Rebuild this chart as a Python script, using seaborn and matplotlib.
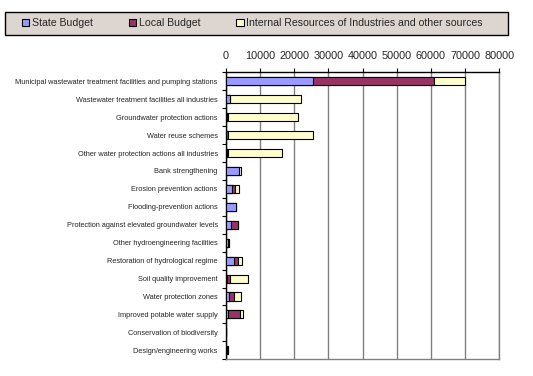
import matplotlib
matplotlib.use("Agg")
import matplotlib.pyplot as plt
from matplotlib.patches import Patch, Rectangle
import seaborn as sns
import pandas as pd
import numpy as np

categories = [
    "Municipal wastewater treatment facilities and pumping stations",
    "Wastewater treatment facilities all industries",
    "Groundwater protection actions",
    "Water reuse schemes",
    "Other water protection actions all industries",
    "Bank strengthening",
    "Erosion prevention actions",
    "Flooding-prevention actions",
    "Protection against elevated groundwater levels",
    "Other hydroengineering facilities",
    "Restoration of hydrological regime",
    "Soil quality improvement",
    "Water protection zones",
    "Improved potable water supply",
    "Conservation of biodiversity",
    "Design/engineering works",
]
state_budget = [25400, 1200, 300, 100, 300, 3700, 1700, 2900, 1400, 500, 2300, 400, 800, 700, 0, 300]
local_budget = [35500, 0, 300, 400, 300, 0, 800, 0, 2000, 300, 1300, 700, 1400, 3300, 0, 200]
internal_resources = [9200, 20900, 20600, 24900, 15800, 700, 1200, 0, 0, 0, 1000, 5400, 2100, 900, 0, 0]
series_names = ["State Budget", "Local Budget", "Internal Resources of Industries and other sources"]
series_colors = ["#9999FF", "#993366", "#FFFFCC"]
xticks = [0, 10000, 20000, 30000, 40000, 50000, 60000, 70000, 80000]

df = pd.DataFrame({"category": categories, "state": state_budget,
                   "local": local_budget, "internal": internal_resources})
df["c1"] = df["state"]
df["c2"] = df["state"] + df["local"]
df["c3"] = df["c2"] + df["internal"]

sns.set_style("white")
plt.rcParams["font.family"] = ["Liberation Sans", "DejaVu Sans"]

fig = plt.figure(figsize=(5.33, 3.76), dpi=100)
ax = fig.add_axes([226 / 533, 1 - 359.3 / 376, (499.3 - 226) / 533, (359.3 - 72.3) / 376])

for col, color in zip(["c3", "c2", "c1"], series_colors[::-1]):
    sns.barplot(data=df, y="category", x=col, orient="h", color=color,
                edgecolor="black", linewidth=0.8, width=0.45, saturation=1,
                ax=ax, zorder=3)

ax.set_xlim(0, 80000)
ax.set_xticks(xticks)
ax.set_xticklabels([str(t) for t in xticks], fontsize=7.8)
ax.xaxis.tick_top()
ax.xaxis.set_label_position("top")
ax.set_xlabel("")
ax.set_ylabel("")
ax.tick_params(axis="x", which="both", top=True, bottom=False, length=3, width=0.8,
               color="black", pad=5, direction="out")
ax.set_yticks(np.arange(len(categories)))
ax.set_yticklabels(categories, fontsize=5.3)
ax.tick_params(axis="y", which="major", left=False, pad=2.5)
ax.set_yticks(np.arange(len(categories) + 1) - 0.5, minor=True)
ax.tick_params(axis="y", which="minor", left=True, length=3, width=0.8, color="black")
ax.set_ylim(len(categories) - 0.5, -0.5)

ax.grid(axis="x", color="#808080", linewidth=1, zorder=0)
ax.grid(axis="y", visible=False)
ax.set_axisbelow(True)
for side in ["top", "left"]:
    ax.spines[side].set_color("black")
    ax.spines[side].set_linewidth(1)
for side in ["right", "bottom"]:
    ax.spines[side].set_color("#808080")
    ax.spines[side].set_linewidth(1)
for s in ax.spines.values():
    s.set_visible(True)

# legend box
fig.patches.append(Rectangle((5 / 533, 1 - 35 / 376), (508 - 5) / 533, (35 - 11.7) / 376,
                             transform=fig.transFigure, facecolor="#DDD5D0",
                             edgecolor="black", linewidth=1, zorder=0))
handles = [Patch(facecolor=c, edgecolor="black", linewidth=0.8) for c in series_colors]
fig.legend(handles, series_names, loc="center left", ncol=3,
           bbox_to_anchor=(22 / 533, 1 - 23.3 / 376), frameon=False, fontsize=7.6,
           handlelength=0.7, handleheight=0.7, handletextpad=0.25, columnspacing=3.4,
           borderaxespad=0, borderpad=0)

fig.savefig("out.png", dpi=100)
